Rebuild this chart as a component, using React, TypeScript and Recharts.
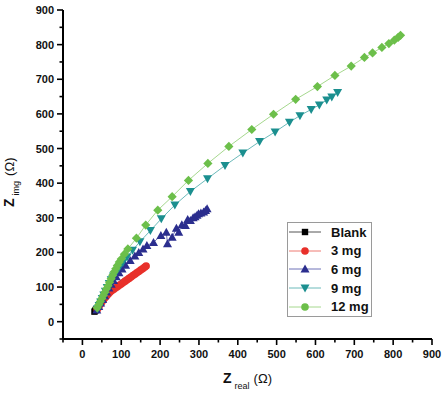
import React from 'react';
import { ScatterChart, Scatter, XAxis, YAxis, Label } from 'recharts';

// Nyquist data (Z real, Z img in ohm)
const blankData = [
  { x: 31, y: 29 }, { x: 33, y: 32 }, { x: 35, y: 35 },
];

const mg3Data = [
  { x: 38, y: 35 }, { x: 42, y: 42 }, { x: 46, y: 50 }, { x: 50, y: 57 }, { x: 54, y: 63 },
  { x: 58, y: 69 }, { x: 62, y: 74 }, { x: 66, y: 79 }, { x: 70, y: 84 }, { x: 75, y: 89 },
  { x: 80, y: 93 }, { x: 85, y: 97 }, { x: 90, y: 101 }, { x: 95, y: 105 }, { x: 100, y: 109 },
  { x: 105, y: 113 }, { x: 110, y: 117 }, { x: 115, y: 121 }, { x: 120, y: 125 }, { x: 125, y: 129 },
  { x: 130, y: 133 }, { x: 135, y: 137 }, { x: 140, y: 141 }, { x: 145, y: 145 }, { x: 150, y: 149 },
  { x: 155, y: 153 }, { x: 160, y: 157 }, { x: 164, y: 161 },
];

const mg6Data = [
  { x: 37, y: 34 }, { x: 42, y: 44 }, { x: 47, y: 54 }, { x: 52, y: 64 }, { x: 57, y: 75 },
  { x: 62, y: 86 }, { x: 68, y: 97 }, { x: 74, y: 108 }, { x: 80, y: 119 }, { x: 87, y: 130 },
  { x: 94, y: 141 }, { x: 102, y: 152 }, { x: 111, y: 163 }, { x: 123, y: 177 }, { x: 135, y: 190 },
  { x: 145, y: 200 }, { x: 156, y: 210 }, { x: 166, y: 220 }, { x: 183, y: 229 }, { x: 202, y: 249 },
  { x: 216, y: 258 }, { x: 219, y: 225 }, { x: 231, y: 244 }, { x: 242, y: 270 }, { x: 248, y: 258 },
  { x: 256, y: 280 }, { x: 265, y: 278 }, { x: 271, y: 295 }, { x: 278, y: 292 }, { x: 285, y: 300 },
  { x: 290, y: 303 }, { x: 295, y: 307 }, { x: 299, y: 312 }, { x: 305, y: 314 }, { x: 312, y: 317 },
  { x: 317, y: 321 }, { x: 321, y: 326 },
];

const mg9Data = [
  { x: 39, y: 37 }, { x: 43, y: 47 }, { x: 47, y: 57 }, { x: 51, y: 67 }, { x: 55, y: 77 },
  { x: 59, y: 88 }, { x: 64, y: 99 }, { x: 69, y: 110 }, { x: 74, y: 121 }, { x: 80, y: 132 },
  { x: 87, y: 144 }, { x: 95, y: 157 }, { x: 104, y: 171 }, { x: 115, y: 187 }, { x: 129, y: 206 },
  { x: 148, y: 231 }, { x: 175, y: 263 }, { x: 203, y: 297 }, { x: 238, y: 337 }, { x: 278, y: 376 },
  { x: 322, y: 413 }, { x: 367, y: 451 }, { x: 413, y: 487 }, { x: 456, y: 520 }, { x: 496, y: 548 },
  { x: 533, y: 576 }, { x: 560, y: 595 }, { x: 589, y: 613 }, { x: 610, y: 626 }, { x: 629, y: 640 },
  { x: 642, y: 649 }, { x: 657, y: 662 },
];

const mg12Data = [
  { x: 38, y: 40 }, { x: 42, y: 49 }, { x: 46, y: 58 }, { x: 50, y: 67 }, { x: 54, y: 76 },
  { x: 58, y: 85 }, { x: 62, y: 95 }, { x: 66, y: 104 }, { x: 70, y: 114 }, { x: 74, y: 124 },
  { x: 78, y: 134 }, { x: 82, y: 144 }, { x: 86, y: 153 }, { x: 90, y: 162 }, { x: 95, y: 172 },
  { x: 100, y: 181 }, { x: 108, y: 195 }, { x: 117, y: 210 }, { x: 139, y: 241 }, { x: 163, y: 279 },
  { x: 194, y: 322 }, { x: 231, y: 361 }, { x: 273, y: 408 }, { x: 323, y: 457 }, { x: 377, y: 506 },
  { x: 436, y: 555 }, { x: 492, y: 599 }, { x: 549, y: 642 }, { x: 605, y: 679 }, { x: 650, y: 711 },
  { x: 692, y: 738 }, { x: 726, y: 763 }, { x: 747, y: 776 }, { x: 771, y: 792 }, { x: 789, y: 803 },
  { x: 803, y: 813 }, { x: 813, y: 821 }, { x: 819, y: 827 },
];

const xTicks = [-50, 0, 50, 100, 150, 200, 250, 300, 350, 400, 450, 500, 550, 600, 650, 700, 750, 800, 850, 900];
const yTicks = [-50, 0, 50, 100, 150, 200, 250, 300, 350, 400, 450, 500, 550, 600, 650, 700, 750, 800, 850, 900];

const FONT = '"Liberation Sans", Arial, sans-serif';

type Shape = 'square' | 'circle' | 'up' | 'down' | 'diamond';

const series: { name: string; data: { x: number; y: number }[]; color: string; line: string; shape: Shape }[] = [
  { name: 'Blank', data: blankData, color: '#000000', line: '#555555', shape: 'square' },
  { name: '3 mg', data: mg3Data, color: '#e8302a', line: '#ee7a72', shape: 'circle' },
  { name: '6 mg', data: mg6Data, color: '#2b2e8e', line: '#6f72b8', shape: 'up' },
  { name: '9 mg', data: mg9Data, color: '#1b8f8f', line: '#6cbaba', shape: 'down' },
  { name: '12 mg', data: mg12Data, color: '#6cbf4a', line: '#a6d88e', shape: 'diamond' },
];

function Marker({ cx, cy, shape, color }: { cx: number; cy: number; shape: Shape; color: string }) {
  if (cx == null || cy == null) return null;
  switch (shape) {
    case 'square':
      return <rect x={cx - 3.2} y={cy - 3.2} width={6.4} height={6.4} fill={color} />;
    case 'circle':
      return <circle cx={cx} cy={cy} r={3.8} fill={color} />;
    case 'up':
      return <polygon points={`${cx},${cy - 4.5} ${cx + 4.5},${cy + 3.5} ${cx - 4.5},${cy + 3.5}`} fill={color} />;
    case 'down':
      return <polygon points={`${cx},${cy + 4.5} ${cx + 4.5},${cy - 3.5} ${cx - 4.5},${cy - 3.5}`} fill={color} />;
    default:
      return <polygon points={`${cx},${cy - 4.6} ${cx + 4.6},${cy} ${cx},${cy + 4.6} ${cx - 4.6},${cy}`} fill={color} />;
  }
}

const XTick = (props: any) => {
  const { x, y, payload } = props;
  const major = payload.value % 100 === 0;
  return (
    <g>
      <line x1={x} x2={x} y1={y} y2={y + (major ? 6 : 3.5)} stroke="#000" strokeWidth={1.6} />
      {major && (
        <text x={x} y={y + 19} textAnchor="middle" fontFamily={FONT} fontWeight="bold" fontSize={11} fill="#111">
          {payload.value}
        </text>
      )}
    </g>
  );
};

const YTick = (props: any) => {
  const { x, y, payload } = props;
  const major = payload.value % 100 === 0;
  return (
    <g>
      <line x1={x} x2={x - (major ? 6 : 3.5)} y1={y} y2={y} stroke="#000" strokeWidth={1.6} />
      {major && (
        <text x={x - 9} y={y + 4} textAnchor="end" fontFamily={FONT} fontWeight="bold" fontSize={11} fill="#111">
          {payload.value}
        </text>
      )}
    </g>
  );
};

function LegendBox() {
  return (
    <div
      style={{
        position: 'absolute',
        left: 287,
        top: 222,
        width: 83,
        height: 93,
        border: '1px solid #9a9a9a',
        fontFamily: FONT,
        background: '#fff',
      }}
    >
      {series.map((s) => (
        <div key={s.name} style={{ display: 'flex', alignItems: 'center', height: 18.6 }}>
          <svg width={38} height={18} style={{ display: 'block' }}>
            <line x1={1} x2={33} y1={9} y2={9} stroke={s.line} strokeWidth={1} />
            <Marker cx={17} cy={9} shape={s.shape === 'diamond' ? 'circle' : s.shape} color={s.color} />
          </svg>
          <span style={{ marginLeft: 5, fontSize: 13, fontWeight: 'bold', color: '#111' }}>{s.name}</span>
        </div>
      ))}
    </div>
  );
}

export default function App() {
  return (
    <div style={{ position: 'relative', width: 445, height: 393, background: '#fff' }}>
      <style>{'body { margin: 0; }'}</style>
      <ScatterChart width={445} height={393} margin={{ top: 10, right: 13, bottom: 14, left: 0 }}>
        <XAxis
          type="number"
          dataKey="x"
          domain={[-50, 900]}
          ticks={xTicks}
          interval={0}
          allowDataOverflow
          height={40}
          tickSize={0}
          tickMargin={0}
          tick={<XTick />}
          axisLine={{ stroke: '#000', strokeWidth: 2 }}
        >
          <Label
            content={() => (
              <text x={223} y={383} fontFamily={FONT} fill="#111">
                <tspan fontSize={14} fontWeight="bold">Z</tspan>
                <tspan fontSize={9} dx={3} dy={6}>real</tspan>
                <tspan fontSize={13} dx={4} dy={-6}>(Ω)</tspan>
              </text>
            )}
          />
        </XAxis>
        <YAxis
          type="number"
          dataKey="y"
          domain={[-50, 900]}
          ticks={yTicks}
          interval={0}
          allowDataOverflow
          width={63}
          tickSize={0}
          tickMargin={0}
          tick={<YTick />}
          axisLine={{ stroke: '#000', strokeWidth: 2 }}
        >
          <Label
            content={() => (
              <text transform="translate(14,207) rotate(-90)" fontFamily={FONT} fill="#111">
                <tspan fontSize={14} fontWeight="bold">Z</tspan>
                <tspan fontSize={9} dx={3} dy={5}>img</tspan>
                <tspan fontSize={13} dx={5} dy={-5}>(Ω)</tspan>
              </text>
            )}
          />
        </YAxis>
        {series.map((s) => (
          <Scatter
            key={s.name}
            name={s.name}
            data={s.data}
            isAnimationActive={false}
            line={{ stroke: s.line, strokeWidth: 1 }}
            lineType="joint"
            shape={(p: any) => <Marker cx={p.cx} cy={p.cy} shape={s.shape} color={s.color} />}
          />
        ))}
      </ScatterChart>
      <LegendBox />
    </div>
  );
}
